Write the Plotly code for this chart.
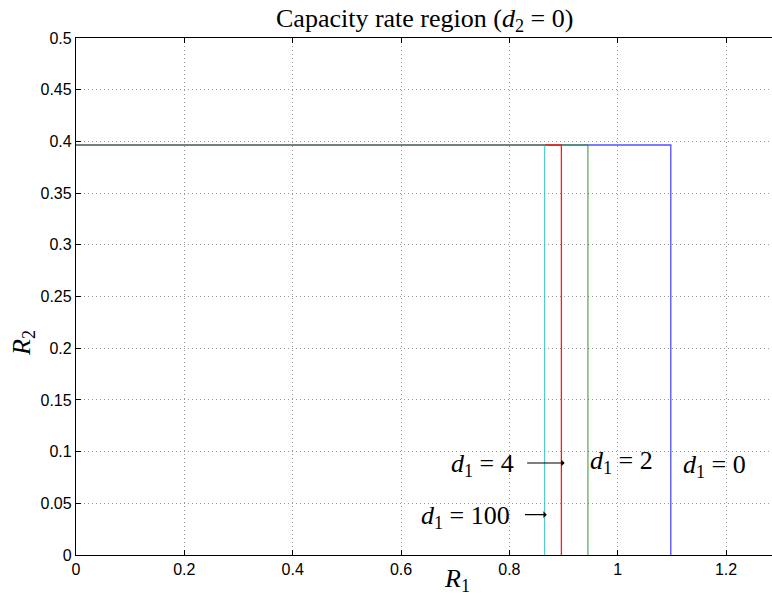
import plotly.graph_objects as go

# Capacity rate region boundaries for several values of d1 (d2 = 0)
d1_labels = ["0", "2", "4", "100"]
r1_max = [1.098, 0.945, 0.896, 0.865]
r2_max = [0.3965, 0.3965, 0.3965, 0.3965]
line_colors = ["#5050ff", "#3a9a3a", "#ff1a1a", "#22bdbd"]
line_opacity = [1.0, 0.8, 1.0, 0.75]

# label positions (R1, R2); arrows point from the label toward the boundary
label_pos = {"0": (1.117, 0.086), "2": (0.946, 0.090), "4": (0.813, 0.087), "100": (0.804, 0.037)}
arrow_spans = {"4": (0.830, 0.902), "100": (0.826, 0.869)}

x_ticks = [0, 0.2, 0.4, 0.6, 0.8, 1.0, 1.2]
x_tick_text = ["0", "0.2", "0.4", "0.6", "0.8", "1", "1.2"]
y_ticks = [0, 0.05, 0.1, 0.15, 0.2, 0.25, 0.3, 0.35, 0.4, 0.45, 0.5]
y_tick_text = ["0", "0.05", "0.1", "0.15", "0.2", "0.25", "0.3", "0.35", "0.4", "0.45", "0.5"]

fig = go.Figure()
for lab, rx, ry, col, op in zip(d1_labels, r1_max, r2_max, line_colors, line_opacity):
    fig.add_trace(go.Scatter(
        x=[0, rx, rx], y=[ry, ry, 0], mode="lines",
        line=dict(color=col, width=1.3), opacity=op,
        name="d1 = " + lab, showlegend=False, hoverinfo="skip"))

serif = "Liberation Serif, Times New Roman, serif"
math_font = dict(family=serif, size=26, color="black")
for lab in d1_labels:
    px, py = label_pos[lab]
    anchor = "left" if lab in ("0", "2") else "right"
    fig.add_annotation(x=px, y=py, xref="x", yref="y", showarrow=False,
                       text="<i>d</i><sub>1</sub> = " + lab, font=math_font,
                       xanchor=anchor, yanchor="middle")
for lab, (xa, xb) in arrow_spans.items():
    py = label_pos[lab][1] + 0.002
    fig.add_annotation(x=xb, y=py, ax=xa, ay=py, xref="x", yref="y", axref="x", ayref="y",
                       text="", showarrow=True, arrowhead=1, arrowsize=1.0,
                       arrowwidth=1.1, arrowcolor="black", standoff=0)

# title and axis labels
fig.add_annotation(xref="paper", yref="paper", x=(425 - 76) / 696, y=(596 - 20 - 41) / 517,
                   text="Capacity rate region (<i>d</i><sub>2</sub> = 0)", showarrow=False,
                   font=dict(family=serif, size=26, color="black"),
                   xanchor="center", yanchor="middle")
fig.add_annotation(xref="paper", yref="paper", x=(457 - 76) / 696, y=-(580 - 555) / 517,
                   text="<i>R</i><sub>1</sub>", showarrow=False, font=math_font,
                   xanchor="center", yanchor="middle")
fig.add_annotation(xref="paper", yref="paper", x=-(76 - 23) / 696, y=(555 - 343) / 517,
                   text="<i>R</i><sub>2</sub>", showarrow=False, font=math_font, textangle=-90,
                   xanchor="center", yanchor="middle")

tick_font = dict(family="Liberation Sans, Arial, sans-serif", size=16, color="black")
grid = dict(showgrid=True, gridcolor="#9a9a9a", griddash="1px,3px", gridwidth=1)
fig.update_xaxes(range=[0, 1.2848], tickvals=x_ticks, ticktext=x_tick_text, ticks="inside",
                 ticklen=5, tickcolor="black", showline=True, linecolor="black", linewidth=1.3,
                 mirror="ticks", zeroline=False, tickfont=tick_font, **grid)
fig.update_yaxes(range=[0, 0.5], tickvals=y_ticks, ticktext=y_tick_text, ticks="inside",
                 ticklen=5, tickcolor="black", showline=True, linecolor="black", linewidth=1.3,
                 mirror=False, zeroline=False, tickfont=tick_font, **grid)
fig.update_layout(width=772, height=596, margin=dict(l=76, r=0, t=38, b=41),
                  plot_bgcolor="white", paper_bgcolor="white")
fig.write_html("out.html")
